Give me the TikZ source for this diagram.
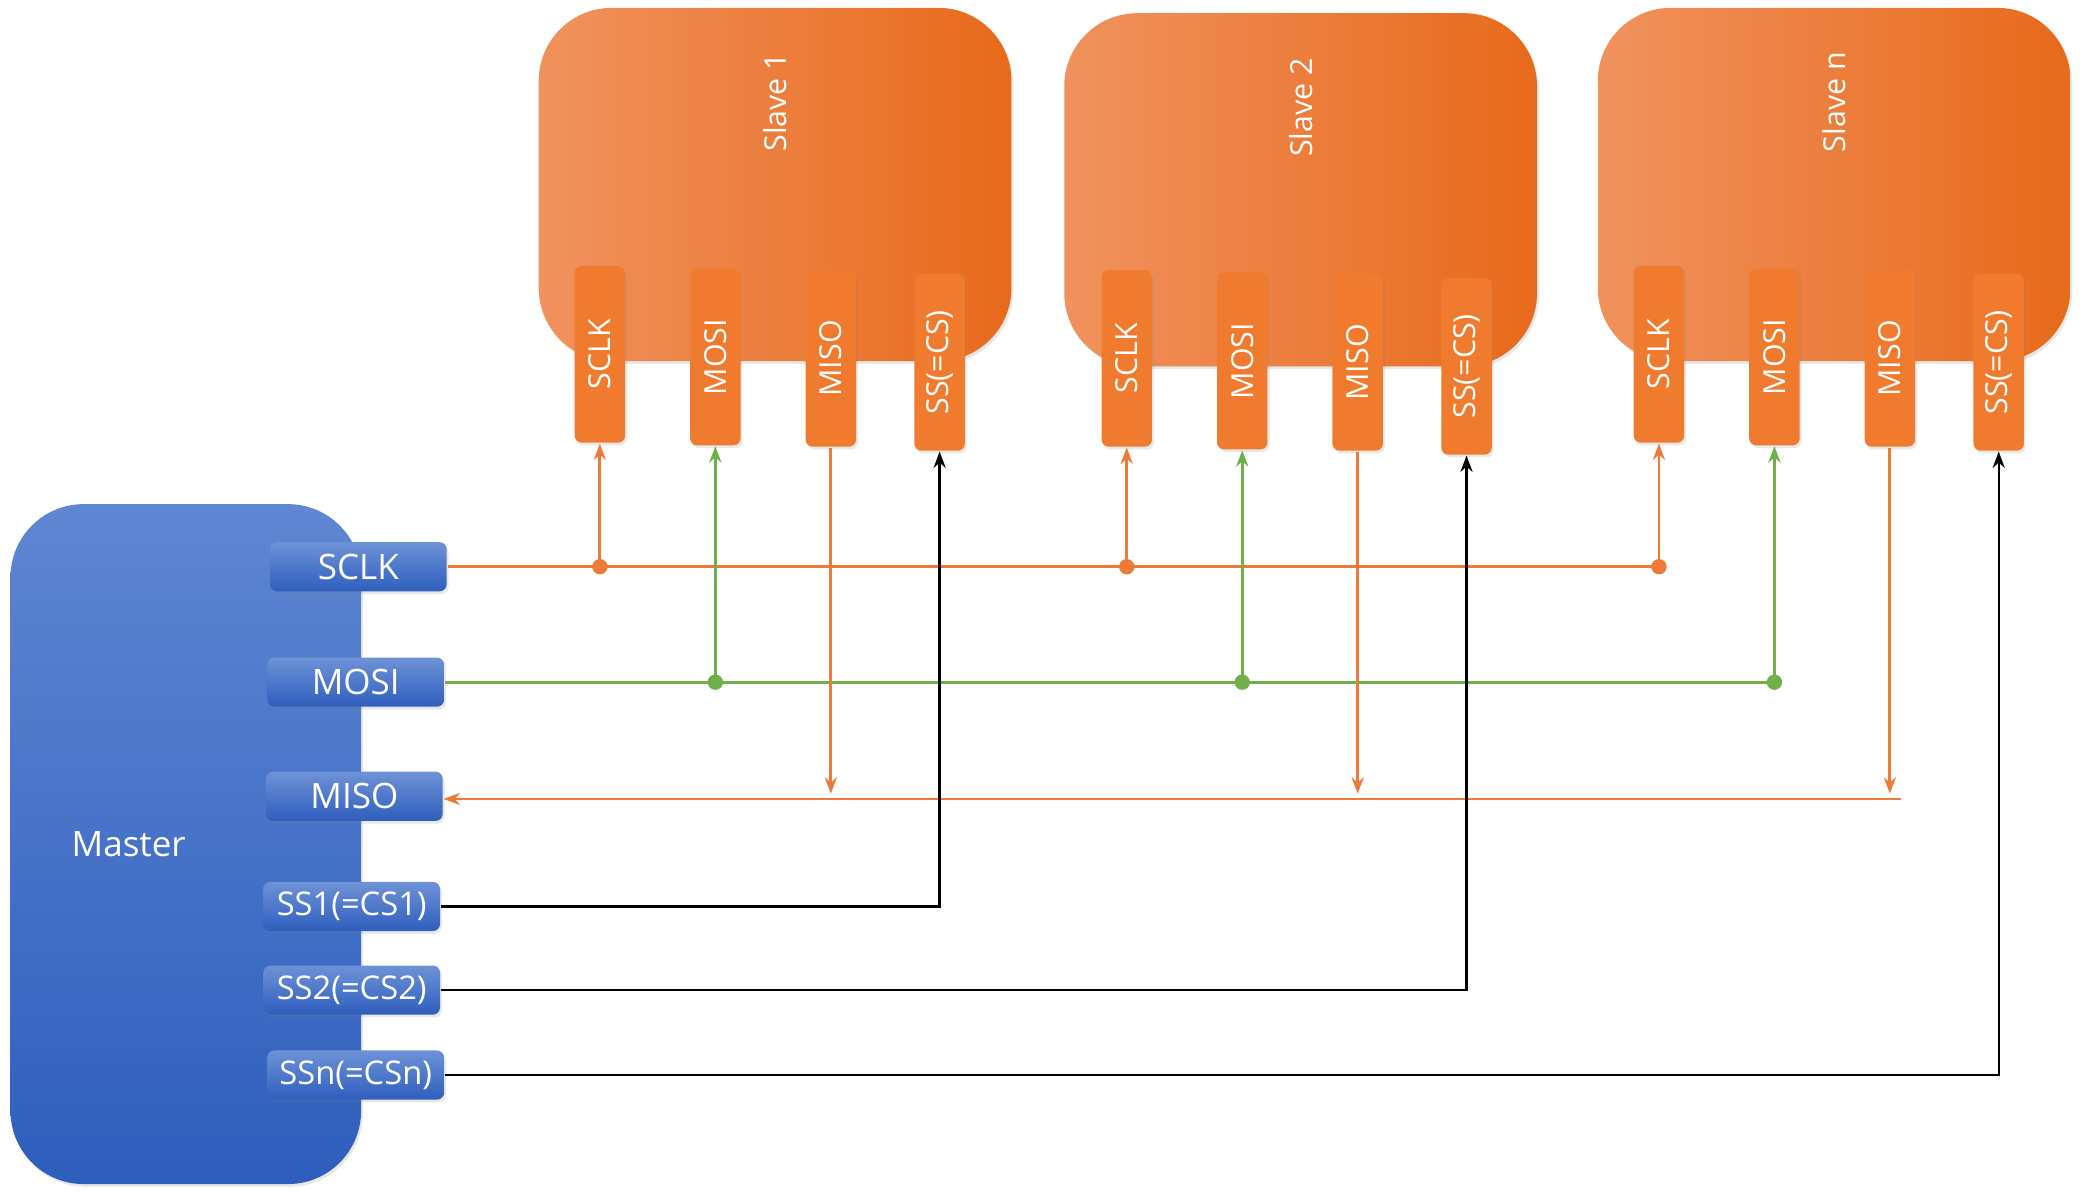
\documentclass[tikz,border=0pt]{standalone}
\usepackage{fontspec}
\setmainfont{Open Sans}
\usetikzlibrary{arrows.meta,shadows}
\definecolor{oL}{HTML}{F0925E}
\definecolor{oR}{HTML}{E86A1B}
\definecolor{pinO}{HTML}{F07B2E}
\definecolor{bT}{HTML}{5E86D2}
\definecolor{bB}{HTML}{2E5EBD}
\definecolor{lineO}{HTML}{EE7A37}
\definecolor{lineG}{HTML}{6FB04A}
\tikzset{
  shad/.style={drop shadow={opacity=0.18,shadow xshift=0.4pt,shadow yshift=-0.6pt}},
  slave/.style={draw=none,rounded corners=0.55cm,left color=oL,right color=oR,minimum width=3.56cm,minimum height=2.66cm,shad},
  spin/.style={draw=none,rounded corners=1.5pt,fill=pinO,minimum width=0.38cm,minimum height=1.33cm,shad},
  mpin/.style={draw=none,rounded corners=1.5pt,top color=bT!90,bottom color=bB,minimum width=1.33cm,minimum height=0.37cm,inner sep=1pt,text=white,font=\fontsize{7}{8}\selectfont,shad},
  stxt/.style={rotate=90,text=white,font=\fontsize{6.5}{8}\selectfont},
  oline/.style={lineO,line width=0.6pt},
  gline/.style={lineG,line width=0.6pt},
  kline/.style={black,line width=0.5pt},
  tip/.style={-{Stealth[length=3.5pt,width=2.6pt]}},
  dot/.style={circle,inner sep=0pt,minimum size=3.3pt}
}
\begin{document}
\begin{tikzpicture}[x=0.01cm,y=-0.01cm]
\useasboundingbox (0,0) rectangle (1568,902);
% master
\node[draw=none,rounded corners=0.55cm,top color=bT,bottom color=bB,minimum width=2.64cm,minimum height=5.12cm,shad] (m) at (140,636) {};
\node[text=white,font=\fontsize{7.5}{9}\selectfont] (mlab) at (97,636) {Master};
\node[mpin,font=\fontsize{7.5}{9}\selectfont] (msclk) at (270,427) {SCLK};
\node[mpin,font=\fontsize{7.5}{9}\selectfont] (mmosi) at (268,514) {MOSI};
\node[mpin,font=\fontsize{7.5}{9}\selectfont] (mmiso) at (267,600) {MISO};
\node[mpin] (mss1) at (265,683) {SS1(=CS1)};
\node[mpin] (mss2) at (265,746) {SS2(=CS2)};
\node[mpin] (mssn) at (268,810) {SSn(=CSn)};
% slaves
\foreach \i/\x/\y/\t in {1/584/139/Slave 1,2/980/143/Slave 2,3/1382/139/Slave n}{
  \node[slave] (s\i) at (\x,\y) {};
  \node[stxt] (s\i lab) at (\x,\y-62) {\t};
}
\foreach \i/\x/\y in {1/452/267,2/849/270,3/1250/267}{
  \node[spin] (s\i sclk) at (\x,\y) {};
  \node[stxt] (s\i sclkt) at (s\i sclk) {SCLK};
  \node[spin] (s\i mosi) at (\x+87,\y+2) {};
  \node[stxt] (s\i mosit) at (s\i mosi) {MOSI};
  \node[spin] (s\i miso) at (\x+174,\y+3) {};
  \node[stxt] (s\i misot) at (s\i miso) {MISO};
  \node[spin] (s\i ss) at (\x+256,\y+6) {};
  \node[stxt] (s\i sst) at (s\i ss) {SS(=CS)};
}
% SCLK
\draw[oline] (msclk.east) -- (msclk.east -| s3sclk);
\foreach \i in {1,2,3}{
  \coordinate (jc\i) at (msclk.east -| s\i sclk);
  \node[dot,fill=lineO] (dc\i) at (jc\i) {};
  \draw[oline,tip] (jc\i) -- (s\i sclk.south);
}
% MOSI
\draw[gline] (mmosi.east) -- (mmosi.east -| s3mosi);
\foreach \i in {1,2,3}{
  \coordinate (jm\i) at (mmosi.east -| s\i mosi);
  \node[dot,fill=lineG] (dm\i) at (jm\i) {};
  \draw[gline,tip] (jm\i) -- (s\i mosi.south);
}
% MISO
\coordinate (misoend) at (1432,602);
\draw[oline,tip] (misoend) -- (mmiso.east |- misoend);
\foreach \i in {1,2,3}{
  \coordinate (jo\i) at ([yshift=0.04cm]misoend -| s\i miso);
  \draw[oline,tip] (s\i miso.south) -- (jo\i);
}
% SS
\draw[kline,tip] (mss1.east) -| (s1ss.south);
\draw[kline,tip] (mss2.east) -| (s2ss.south);
\draw[kline,tip] (mssn.east) -| (s3ss.south);
\end{tikzpicture}
\end{document}
